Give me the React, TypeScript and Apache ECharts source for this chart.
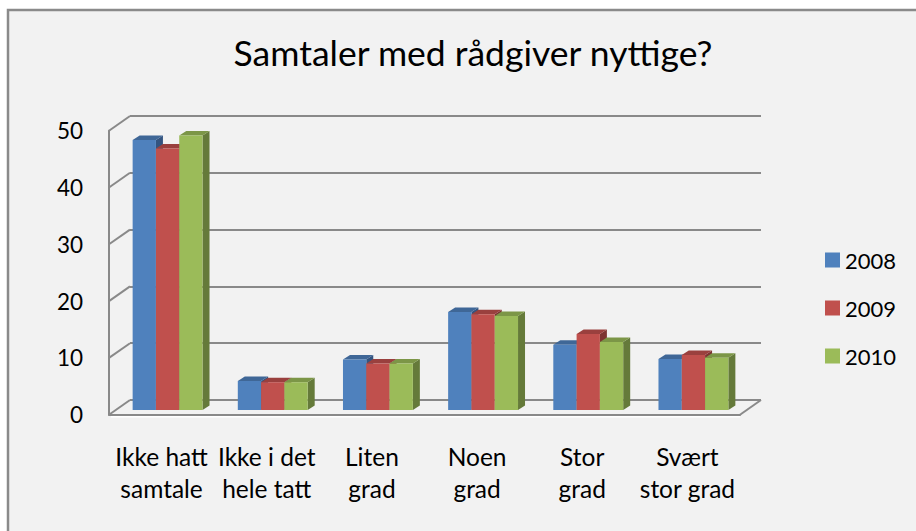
import React, { useEffect, useRef } from "react";
import * as echarts from "echarts";

const titleText = "Samtaler med rådgiver nyttige?";
const categories = [
  "Ikke hatt\nsamtale",
  "Ikke i det\nhele tatt",
  "Liten\ngrad",
  "Noen\ngrad",
  "Stor\ngrad",
  "Svært\nstor grad",
];
const seriesNames = ["2008", "2009", "2010"];
const values2008 = [47.6, 5.1, 8.9, 17.3, 11.5, 9.0];
const values2009 = [46.1, 4.9, 8.2, 16.9, 13.4, 9.7];
const values2010 = [48.4, 4.9, 8.2, 16.6, 12.0, 9.2];
const yTicks = [0, 10, 20, 30, 40, 50];

const frontColors = ["#4f81bd", "#c0504d", "#9bbb59"];
const topColors = ["#3f6797", "#9a403e", "#7c9647"];
const sideColors = ["#335480", "#7d3432", "#657a3a"];

const FONT = "Lato";
const LINE = "#898989";
const DEPTH_X = 21;
const DEPTH_Y = 14.7;
const BAR_DX = 7;
const BAR_DY = 4.5;

export default function App() {
  const ref = useRef<HTMLDivElement>(null);

  useEffect(() => {
    if (!ref.current) return;
    const chart = echarts.init(ref.current, undefined, { renderer: "svg" });
    const allValues = [values2008, values2009, values2010];

    const barSeries = allValues.map((vals, si) => ({
      type: "custom",
      name: seriesNames[si],
      xAxisIndex: 2,
      yAxisIndex: 2,
      clip: false,
      itemStyle: { color: frontColors[si] },
      data: vals.map((v, i) => [i, v]),
      renderItem: (params: any, api: any) => {
        const cat = api.value(0);
        const val = api.value(1);
        const base = api.coord([cat, 0]);
        const top = api.coord([cat, val]);
        const band = api.size([1, 0])[0];
        const w = band * 0.2215;
        const x = base[0] - 1.5 * w + si * w;
        const yb = base[1];
        const yt = top[1];
        return {
          type: "group",
          children: [
            {
              type: "polygon",
              shape: {
                points: [
                  [x + w, yt],
                  [x + w + BAR_DX, yt - BAR_DY],
                  [x + w + BAR_DX, yb - BAR_DY],
                  [x + w, yb],
                ],
              },
              style: { fill: sideColors[si] },
            },
            {
              type: "polygon",
              shape: {
                points: [
                  [x, yt],
                  [x + w, yt],
                  [x + w + BAR_DX, yt - BAR_DY],
                  [x + BAR_DX, yt - BAR_DY],
                ],
              },
              style: { fill: topColors[si] },
            },
            {
              type: "rect",
              shape: { x: x, y: yt, width: w, height: yb - yt },
              style: { fill: frontColors[si] },
            },
          ],
        };
      },
    }));

    const wallSeries = {
      type: "custom",
      xAxisIndex: 0,
      yAxisIndex: 0,
      clip: false,
      silent: true,
      data: yTicks.map((t) => [0, t]),
      renderItem: (params: any, api: any) => {
        const cs = params.coordSys;
        const y = api.coord([0, api.value(1)])[1];
        const children: any[] = [
          {
            type: "line",
            shape: { x1: cs.x, y1: y, x2: cs.x + DEPTH_X, y2: y - DEPTH_Y },
            style: { stroke: LINE, lineWidth: 2 },
          },
        ];
        if (api.value(1) === 0) {
          const xr = cs.x + cs.width;
          children.push({
            type: "line",
            shape: { x1: xr, y1: y, x2: xr + DEPTH_X, y2: y - DEPTH_Y },
            style: { stroke: LINE, lineWidth: 2 },
          });
          children.push({
            type: "line",
            shape: { x1: cs.x + 2, y1: y + 2, x2: xr, y2: y + 2 },
            style: { stroke: "#ffffff", lineWidth: 1.5 },
          });
        }
        return { type: "group", children };
      },
    };

    const option: any = {
      animation: false,
      textStyle: { fontFamily: FONT },
      title: {
        text: titleText,
        left: 468,
        top: 29,
        textAlign: "center",
        textStyle: { fontFamily: FONT, fontSize: 35.5, fontWeight: "normal", color: "#000" },
      },
      graphic: {
        elements: [
          {
            type: "rect",
            z: -100,
            shape: { x: 8, y: 10, width: 1000, height: 600 },
            style: { fill: "#f2f2f2", stroke: "#8a8a8a", lineWidth: 2.5 },
          },
        ],
      },
      legend: {
        orient: "vertical",
        left: 820,
        top: 244,
        itemWidth: 15,
        itemHeight: 15,
        itemGap: 26,
        icon: "rect",
        data: seriesNames,
        textStyle: { fontFamily: FONT, fontSize: 22, color: "#000" },
      },
      grid: [
        { left: 109, top: 130.7, width: 631, height: 284 },
        { left: 130, top: 116, width: 631, height: 284 },
        { left: 115, top: 126.5, width: 631, height: 283.5 },
      ],
      xAxis: [
        {
          type: "category",
          gridIndex: 0,
          data: categories,
          axisTick: { show: false },
          axisLine: { show: true, lineStyle: { color: LINE, width: 2 } },
          axisLabel: {
            interval: 0,
            margin: 26,
            fontFamily: FONT,
            fontSize: 24.5,
            lineHeight: 32,
            color: "#000",
          },
        },
        { type: "category", gridIndex: 1, data: categories, show: false },
        { type: "category", gridIndex: 2, data: categories, show: false },
      ],
      yAxis: [
        {
          type: "value",
          gridIndex: 0,
          min: 0,
          max: 50,
          interval: 10,
          axisLine: { show: true, lineStyle: { color: LINE, width: 2 } },
          axisTick: { show: false },
          splitLine: { show: false },
          axisLabel: { margin: 26, fontFamily: FONT, fontSize: 22.5, color: "#000" },
        },
        {
          type: "value",
          gridIndex: 1,
          min: 0,
          max: 50,
          interval: 10,
          axisLine: { show: false },
          axisTick: { show: false },
          axisLabel: { show: false },
          splitLine: { show: true, lineStyle: { color: LINE, width: 2 } },
        },
        {
          type: "value",
          gridIndex: 2,
          min: 0,
          max: 50,
          interval: 10,
          show: false,
          splitLine: { show: false },
        },
      ],
      series: [wallSeries, ...barSeries],
    };

    chart.setOption(option);
    return () => chart.dispose();
  }, []);

  return (
    <div
      ref={ref}
      style={{ position: "fixed", left: 0, top: 0, width: 916, height: 531, background: "#ffffff" }}
    />
  );
}
